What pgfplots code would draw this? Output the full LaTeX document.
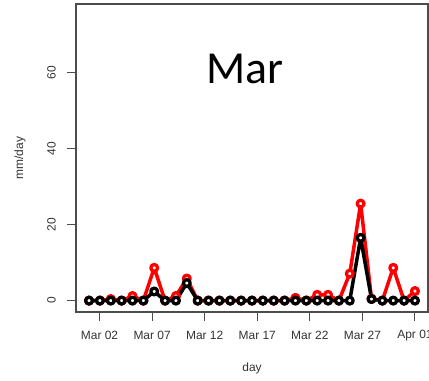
\documentclass[border=0pt]{standalone}
\usepackage{fontspec}
\setmainfont{Liberation Sans}
\newfontfamily\titlefont{Carlito}
\usepackage{pgfplots}
\pgfplotsset{compat=1.18}

% daily rainfall, mm/day (31 readings spanning Mar 01 -- Apr 01)
\pgfplotstableread{
x        obs    sim
1        0      0
2.0333   0      0
3.0667   0.4    0
4.1      0      0
5.1333   1.2    0
6.1667   0      0
7.2      8.6    2.4
8.2333   0      0
9.2667   1.2    0
10.3     5.8    4.6
11.3333  0      0
12.3667  0      0
13.4     0      0
14.4333  0      0
15.4667  0      0
16.5     0      0
17.5333  0      0
18.5667  0      0
19.6     0      0
20.6333  0.7    0
21.6667  0      0
22.7     1.5    0
23.7333  1.5    0
24.7667  0      0
25.8     7.1    0
26.8333  25.5   16.5
27.8667  0.5    0.4
28.9     0      0
29.9333  8.6    0
30.9667  0      0
32       2.5    0
}\rain

\definecolor{axgray}{gray}{0.3}

\begin{document}
\begin{tikzpicture}[x=1bp,y=1bp]
\begin{axis}[
  scale only axis,
  width=352bp, height=308bp,
  xmin=-0.24, xmax=33.24,
  ymin=-3, ymax=78,
  axis line style={axgray, line width=1.2bp},
  tick style={axgray, line width=1bp},
  tick align=outside,
  major tick length=8.5bp,
  xtick={2,7,12,17,22,27,32},
  xticklabels={Mar 02,Mar 07,Mar 12,Mar 17,Mar 22,Mar 27,Apr 01},
  ytick={0,20,40,60},
  xtick pos=bottom, ytick pos=left,
  /pgf/number format/assume math mode=true,
  ticklabel style={font=\fontsize{12}{12}\selectfont, text=black!80},
  xticklabel style={anchor=center, yshift=-15bp},
  yticklabel style={xshift=-16bp, rotate=90, anchor=center},
  xlabel={day}, ylabel={mm/day},
  xlabel style={font=\fontsize{12}{12}\selectfont, text=black!80,
    at={(axis description cs:0.5,-0.1818)}, anchor=center},
  ylabel style={font=\fontsize{12}{12}\selectfont, text=black!80,
    at={(axis description cs:-0.159,0.5)}, anchor=center},
  clip=false,
]
\addplot[red, line width=3.5bp, line join=round, mark=*,
  mark options={draw=red, fill=white, line width=3.3bp, mark size=3.4bp}]
  table[x=x, y=obs] {\rain};
\addplot[black, line width=3.5bp, line join=round, mark=*,
  mark options={draw=black, fill=white, line width=3.3bp, mark size=3.4bp}]
  table[x=x, y=sim] {\rain};
\node[font=\titlefont\fontsize{46}{46}\selectfont, anchor=center]
  at (axis description cs:0.479,0.788) {Mar};
\coordinate (sw) at (rel axis cs:0,0);
\coordinate (ne) at (rel axis cs:1,1);
\end{axis}
\pgfresetboundingbox
\path[use as bounding box] ([shift={(-76bp,-69bp)}]sw) rectangle ([shift={(1bp,4bp)}]ne);
\end{tikzpicture}
\end{document}
